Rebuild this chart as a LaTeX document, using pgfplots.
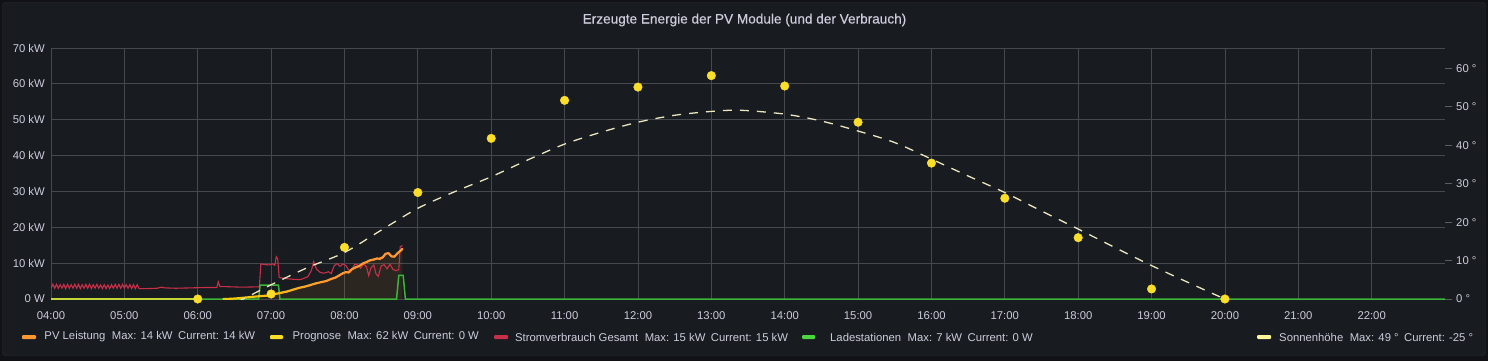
\documentclass[border=0pt]{standalone}
\usepackage{fontspec}
\setmainfont{Liberation Sans}
\newfontfamily\titlefont[FakeBold=0.5]{Liberation Sans}
\usepackage{pgfplots}
\pgfplotsset{compat=1.18}
\definecolor{outerbg}{HTML}{111217}
\definecolor{panelbg}{HTML}{181B1F}
\definecolor{panelborder}{HTML}{2A2D32}
\definecolor{gridcol}{HTML}{45484D}
\definecolor{textcol}{HTML}{CCCCDC}
\definecolor{tickcol}{HTML}{5A5D62}
\definecolor{pvorange}{HTML}{FF9830}
\definecolor{pvyellow}{HTML}{F2CC0C}
\definecolor{progyellow}{HTML}{FADE2A}
\definecolor{lime}{HTML}{C2D63A}
\definecolor{stromred}{HTML}{C8304A}
\definecolor{ladegreen}{HTML}{3CB53A}
\definecolor{legendgreen}{HTML}{4BD83C}
\definecolor{sundash}{HTML}{EAE6C0}
\definecolor{sunlegend}{HTML}{FFF899}
\newcommand{\tickfont}{\fontsize{11.3bp}{13bp}\selectfont}
\begin{document}
\begin{tikzpicture}[x=1bp,y=1bp]
\useasboundingbox (0,0) rectangle (1488,361);
\fill[outerbg] (0,0) rectangle (1488,361);
\filldraw[fill=panelbg, draw=panelborder, rounded corners=3bp] (2.5,5.5) rectangle (1485.5,358.5);
\node[text=textcol, inner sep=0pt, anchor=center] at (744.5,341) {\titlefont\fontsize{13.6bp}{16bp}\selectfont Erzeugte Energie der PV Module (und der Verbrauch)};

\begin{axis}[
  at={(51bp,62bp)}, anchor=south west,
  width=1394bp, height=251bp, scale only axis,
  xmin=4, xmax=23, ymin=0, ymax=70,
  axis line style={draw=none},
  grid=major, major grid style={draw=gridcol, line width=0.8bp},
  xtick={4,...,22},
  xticklabels={04:00,05:00,06:00,07:00,08:00,09:00,10:00,11:00,12:00,13:00,14:00,15:00,16:00,17:00,18:00,19:00,20:00,21:00,22:00},
  ytick={0,10,...,70},
  yticklabels={0 W,10 kW,20 kW,30 kW,40 kW,50 kW,60 kW,70 kW},
  major tick length=0pt,
  tick label style={text=textcol, font=\tickfont},
  xticklabel style={anchor=north, inner sep=0pt, yshift=-12bp},
  yticklabel style={anchor=east, inner sep=0pt, xshift=-6bp},
  clip mode=individual,
  point meta min=0, point meta max=5,
  colormap={pvmap}{color=(pvyellow) color=(pvorange)},
]
% PV area fill
\addplot[draw=none, fill=pvorange, fill opacity=0.09] coordinates {
(6.35,0)(6.45,0.05)(6.55,0.2)(6.65,0.4)(6.75,0.6)(6.85,0.8)(6.95,0.95)(7.0,1.1)(7.08,1.5)(7.15,1.8)(7.22,2.1)(7.3,2.6)(7.38,3.1)(7.45,3.4)(7.52,3.8)(7.6,4.3)(7.68,4.7)(7.75,5.0)(7.82,5.6)(7.88,6.0)(7.93,6.6)(7.98,7.2)(8.02,7.5)(8.06,7.4)(8.1,8.3)(8.15,8.8)(8.2,9.2)(8.25,9.9)(8.3,10.3)(8.35,10.8)(8.4,11.0)(8.44,11.3)(8.48,11.2)(8.52,11.6)(8.56,12.6)(8.6,12.8)(8.64,11.9)(8.68,11.8)(8.72,12.7)(8.76,13.4)(8.79,14.0)
} \closedcycle;
% Stromverbrauch Gesamt
\addplot[stromred, line width=1.1bp] coordinates {
(4.00,3.0)(4.025,4.1)(4.05,3.0)(4.075,4.1)(4.10,3.0)(4.125,4.0)(4.15,3.0)(4.175,4.1)(4.20,2.9)(4.225,4.1)(4.25,3.0)(4.275,4.0)(4.30,3.0)(4.325,4.1)(4.35,3.0)(4.375,4.1)(4.40,2.9)(4.425,4.0)(4.45,3.0)(4.475,4.1)(4.50,3.0)(4.525,4.1)(4.55,2.9)(4.575,4.0)(4.60,3.0)(4.625,4.1)(4.65,3.0)(4.675,3.9)(4.70,2.9)(4.725,4.0)(4.75,2.9)(4.775,3.9)(4.80,2.9)(4.825,4.0)(4.85,3.0)(4.875,4.1)(4.90,3.0)(4.925,4.1)(4.95,3.0)(4.975,4.1)(5.00,3.0)(5.025,4.0)(5.05,3.0)(5.075,4.0)(5.10,2.9)(5.125,4.0)(5.15,2.9)(5.175,4.0)(5.20,2.9)
(5.3,2.9)(5.45,3.0)(5.5,3.3)(5.55,3.1)(5.7,3.0)(5.9,3.1)(6.1,3.2)(6.26,3.2)(6.28,4.8)(6.30,3.5)(6.45,3.4)(6.6,3.3)(6.84,3.4)(6.86,9.8)(6.92,9.6)(6.97,9.5)(7.02,9.8)(7.05,9.4)(7.07,11.8)(7.09,11.2)(7.11,6.0)(7.2,5.7)(7.3,5.5)(7.4,5.4)(7.5,6.2)(7.55,8.0)(7.58,10.4)(7.62,8.3)(7.67,7.4)(7.72,7.2)(7.78,7.6)(7.82,7.1)(7.86,9.3)(7.9,9.9)(7.94,9.1)(7.98,9.8)(8.02,9.3)(8.06,8.0)(8.1,8.2)(8.14,9.7)(8.18,9.5)(8.22,8.6)(8.26,9.8)(8.3,9.0)(8.33,6.5)(8.36,8.6)(8.4,9.5)(8.43,7.0)(8.46,6.3)(8.5,9.2)(8.54,9.6)(8.58,8.4)(8.62,9.7)(8.66,8.3)(8.7,7.9)(8.74,8.2)(8.76,14.6)(8.79,14.9)
};
% Ladestationen
\addplot[ladegreen, line width=1.5bp] coordinates {
(4,0)(6.83,0)(6.85,3.9)(7.1,3.9)(7.12,0)(8.71,0)(8.74,6.6)(8.8,6.6)(8.83,0)(23,0)
};
% PV baseline (early)
\addplot[lime, line width=2.4bp] coordinates {(4,0)(6,0)};
% PV Leistung
\addplot[mesh, point meta=explicit, line width=2.2bp, line join=round, line cap=round] coordinates {
(6.35,0)[0](6.45,0.05)[0.05](6.55,0.2)[0.2](6.65,0.4)[0.4](6.75,0.6)[0.6](6.85,0.8)[0.8](6.95,0.95)[0.95](7.0,1.1)[1.1](7.08,1.5)[1.5](7.15,1.8)[1.8](7.22,2.1)[2.1](7.3,2.6)[2.6](7.38,3.1)[3.1](7.45,3.4)[3.4](7.52,3.8)[3.8](7.6,4.3)[4.3](7.68,4.7)[4.7](7.75,5.0)[5](7.82,5.6)[5](7.88,6.0)[5](7.93,6.6)[5](7.98,7.2)[5](8.02,7.5)[5](8.06,7.4)[5](8.1,8.3)[5](8.15,8.8)[5](8.2,9.2)[5](8.25,9.9)[5](8.3,10.3)[5](8.35,10.8)[5](8.4,11.0)[5](8.44,11.3)[5](8.48,11.2)[5](8.52,11.6)[5](8.56,12.6)[5](8.6,12.8)[5](8.64,11.9)[5](8.68,11.8)[5](8.72,12.7)[5](8.76,13.4)[5](8.79,14.0)[5]
};
% Prognose points
\addplot[only marks, mark=*, mark size=4.3bp, mark options={fill=progyellow, draw=progyellow}] coordinates {
(6,0)(7,1.4)(8,14.4)(9,29.7)(10,44.8)(11,55.4)(12,59.1)(13,62.3)(14,59.4)(15,49.3)(16,37.9)(17,28.1)(18,17.1)(19,2.8)(20,0)
};
\end{axis}

\begin{axis}[
  at={(51bp,62bp)}, anchor=south west,
  width=1394bp, height=251bp, scale only axis,
  xmin=4, xmax=23, ymin=0, ymax=65.3,
  axis x line=none,
  axis y line*=right,
  y axis line style={draw=none},
  ytick={0,10,...,60},
  yticklabels={0 °,10 °,20 °,30 °,40 °,50 °,60 °},
  tick align=outside,
  major tick length=7bp,
  tick style={draw=tickcol, line width=0.8bp},
  tick label style={text=textcol, font=\tickfont},
  yticklabel style={anchor=west, inner sep=0pt, xshift=4bp},
]
\addplot[sundash, line width=1.3bp, dash pattern=on 9bp off 8bp, smooth] coordinates {
(5,-11)(6,-4.2)(6.5,-0.8)(6.62,0)(7,3.7)(7.5,8.2)(8,12.1)(8.5,17.9)(9,23.6)(9.5,27.9)(10,31.8)(10.5,36.2)(11,40.3)(11.5,43.4)(12,46.0)(12.5,47.8)(13,48.8)(13.4,49.1)(14,48.1)(14.5,46.3)(15,43.7)(15.5,40.7)(16,36.4)(16.5,32.0)(17,27.7)(17.5,22.9)(18,18.2)(18.5,13.4)(19,8.7)(19.5,4.3)(20,0)(20.5,-4)(21,-8.5)(22,-17)(23,-25)
};
\end{axis}

% legend
\begin{scope}[every node/.style={text=textcol, inner sep=0pt, anchor=west, font=\tickfont}]
\fill[pvorange, rounded corners=1bp] (22,22) rectangle (36,26);
\node at (44.3,24) {PV Leistung\hspace{6.5bp}Max: 14 kW\hspace{5.5bp}Current: 14 kW};
\fill[progyellow, rounded corners=1bp] (270,22) rectangle (283,26);
\node at (292.5,24) {Prognose\hspace{6.5bp}Max: 62 kW\hspace{5.5bp}Current: 0 W};
\fill[stromred, rounded corners=1bp] (494,22) rectangle (508,26);
\node at (515,24) {Stromverbrauch Gesamt\hspace{6.5bp}Max: 15 kW\hspace{5.5bp}Current: 15 kW};
\fill[legendgreen, rounded corners=1bp] (802,22) rectangle (815,26);
\node at (830,24) {Ladestationen\hspace{6.5bp}Max: 7 kW\hspace{5.5bp}Current: 0 W};
\fill[sunlegend, rounded corners=1bp] (1257,22) rectangle (1271,26);
\node at (1279,24) {Sonnenhöhe\hspace{6.5bp}Max: 49 °\hspace{5.5bp}Current: -25 °};
\end{scope}
\end{tikzpicture}
\end{document}
